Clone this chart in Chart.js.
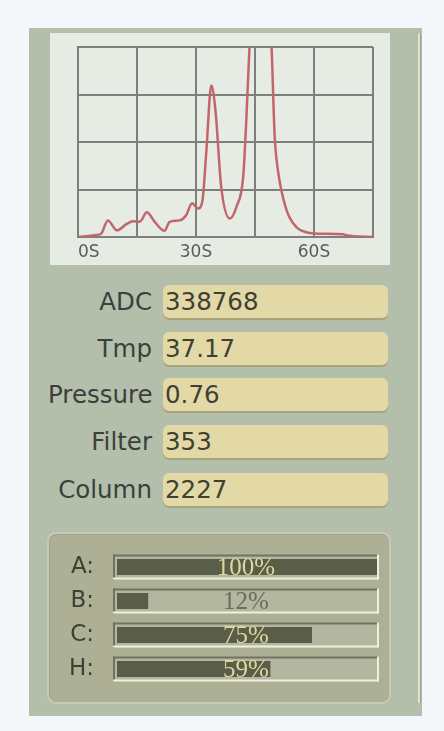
<!DOCTYPE html>
<html>
<head>
<meta charset="utf-8">
<script src="https://cdn.jsdelivr.net/npm/chart.js@4"></script>
<style>
  body { margin: 0; background: #f5f6fa; width: 444px; height: 731px; overflow: hidden; font-family: "DejaVu Sans", sans-serif; }
  #panel { position: absolute; left: 29px; top: 28px; width: 393px; height: 688px; background: #b4bfab; }
  #edge { position: absolute; left: 418px; top: 33px; width: 2px; height: 670px; background: #dfe4d8; border-right: 1px solid #98a190; border-radius: 2px; }
  #plotbox { position: absolute; left: 50px; top: 33px; width: 340px; height: 232px; background: #e6ebe3; }
  .lbl { position: absolute; left: 48px; width: 104px; height: 34px; line-height: 34px; text-align: right; font-size: 24.5px; color: #3c403c; white-space: nowrap; }
  .fld { position: absolute; left: 163px; width: 225px; height: 33px; line-height: 34px; background: #e2d9a6; border-radius: 6px; box-shadow: 0 2px 0 #a9a37c; font-size: 24.5px; color: #3f4035; padding-left: 2px; box-sizing: border-box; }
  #barbox { position: absolute; left: 47px; top: 532px; width: 340px; height: 168px; background: #adb095; border: 2px solid #c6cbb7; border-radius: 9px; box-shadow: inset 1px 1px 0 #9ea189; }
  canvas { display: block; }
</style>
</head>
<body>
<div id="panel"></div>
<div id="edge"></div>
<div id="plotbox"><canvas id="trace" width="340" height="232"></canvas></div>
<div id="fields"></div>
<div id="barbox"></div>
<div style="position:absolute;left:48px;top:533px;width:342px;height:170px"><canvas id="levels" width="342" height="170"></canvas></div>
<script>
// trace: time (s) and signal (grid units)
const times = [0, 4.7, 5.9, 7.6, 9.9, 12.3, 14, 15.7, 17.5, 19.5, 22, 23.3, 25.8, 27.5, 29, 30.5, 31.6, 32.6, 33.9, 35, 36.4, 38.6, 40.3, 42, 42.8, 43.6, 44.6, 46, 48, 49.2, 50, 50.8, 53, 55.5, 58, 61.4, 67.4, 68.2, 75];
const signal = [0, 0.04, 0.07, 0.35, 0.14, 0.27, 0.33, 0.32, 0.52, 0.32, 0.13, 0.32, 0.35, 0.46, 0.71, 0.6, 0.74, 1.77, 3.19, 2.62, 1.06, 0.39, 0.64, 1.27, 2.48, 4.0, 5.2, 5.8, 5.2, 4.0, 2.12, 1.42, 0.57, 0.21, 0.1, 0.07, 0.06, 0.035, 0];
const timeTicks = [0, 30, 60];

const fieldNames = ['ADC', 'Tmp', 'Pressure', 'Filter', 'Column'];
const fieldValues = ['338768', '37.17', '0.76', '353', '2227'];

const channels = ['A:', 'B:', 'C:', 'H:'];
const levels = [100, 12, 75, 59];

// readout fields
const fieldTops = [285, 332, 378, 425, 473];
const fieldsEl = document.getElementById('fields');
fieldNames.forEach((name, i) => {
  const l = document.createElement('div');
  l.className = 'lbl'; l.style.top = fieldTops[i] + 'px'; l.textContent = name;
  const f = document.createElement('div');
  f.className = 'fld'; f.style.top = fieldTops[i] + 'px'; f.textContent = fieldValues[i];
  fieldsEl.appendChild(l); fieldsEl.appendChild(f);
});

const gridColor = '#7c807b';
new Chart(document.getElementById('trace'), {
  type: 'line',
  data: {
    datasets: [{
      data: times.map((t, i) => ({ x: t, y: signal[i] })),
      borderColor: '#c2666b',
      borderWidth: 2.5,
      pointRadius: 0,
      cubicInterpolationMode: 'monotone'
    }]
  },
  options: {
    responsive: false, animation: false,
    layout: { padding: { left: 28, top: 14, right: 17, bottom: 0 } },
    plugins: { legend: { display: false }, tooltip: { enabled: false } },
    scales: {
      x: {
        type: 'linear', min: 0, max: 75,
        grid: { color: gridColor, lineWidth: 2, drawTicks: false },
        border: { color: gridColor, width: 2 },
        ticks: {
          stepSize: 15, padding: 5, align: 'inner', color: '#595c59',
          font: { family: 'DejaVu Sans', size: 17 },
          callback: v => timeTicks.includes(v) ? v + 'S' : ''
        },
        afterFit: s => { s.height = 28; }
      },
      y: {
        min: 0, max: 4,
        grid: { color: gridColor, lineWidth: 2, drawTicks: false },
        border: { color: gridColor, width: 2 },
        ticks: { display: false, stepSize: 1 },
        afterFit: s => { s.width = 0; }
      }
    }
  }
});

// level bars
const tracks = {
  id: 'tracks',
  beforeDatasetsDraw(chart) {
    const { ctx, chartArea: a, scales: { y } } = chart;
    ctx.save();
    channels.forEach((c, i) => {
      const cy = y.getPixelForValue(i);
      const x0 = a.left - 4, x1 = a.right + 2, t = cy - 12.5, b = cy + 12.5;
      ctx.fillStyle = '#b4b79f';
      ctx.fillRect(x0, t, x1 - x0, b - t);
      ctx.fillStyle = '#6e725e';
      ctx.fillRect(x0, t, x1 - x0, 2);
      ctx.fillRect(x0, t, 2, b - t);
      ctx.fillStyle = '#eeefe0';
      ctx.fillRect(x0, b - 2, x1 - x0, 2);
      ctx.fillRect(x1 - 2, t, 2, b - t);
    });
    ctx.restore();
  },
  afterDatasetsDraw(chart) {
    const { ctx, chartArea: a, scales: { y } } = chart;
    ctx.save();
    ctx.font = '25px "Liberation Serif", serif';
    ctx.textAlign = 'center';
    ctx.textBaseline = 'middle';
    levels.forEach((v, i) => {
      ctx.fillStyle = v > 50 ? '#ddd79e' : '#6a6d5a';
      ctx.fillText(v + '%', (a.left + a.right) / 2 - 1, y.getPixelForValue(i) + 1);
    });
    ctx.restore();
  }
};

new Chart(document.getElementById('levels'), {
  type: 'bar',
  data: {
    labels: channels,
    datasets: [{ data: levels, backgroundColor: '#5a5e49', barPercentage: 0.47, categoryPercentage: 1 }]
  },
  options: {
    indexAxis: 'y', responsive: false, animation: false,
    layout: { padding: { left: 0, top: 17, right: 13, bottom: 17 } },
    plugins: { legend: { display: false }, tooltip: { enabled: false } },
    scales: {
      x: { min: 0, max: 100, display: false },
      y: {
        grid: { display: false }, border: { display: false },
        ticks: { padding: 15, color: '#3d4035', font: { family: 'DejaVu Sans', size: 23 } },
        afterFit: s => { s.width = 69; s.paddingTop = 0; s.paddingBottom = 0; }
      }
    }
  },
  plugins: [tracks]
});
</script>
</body>
</html>
